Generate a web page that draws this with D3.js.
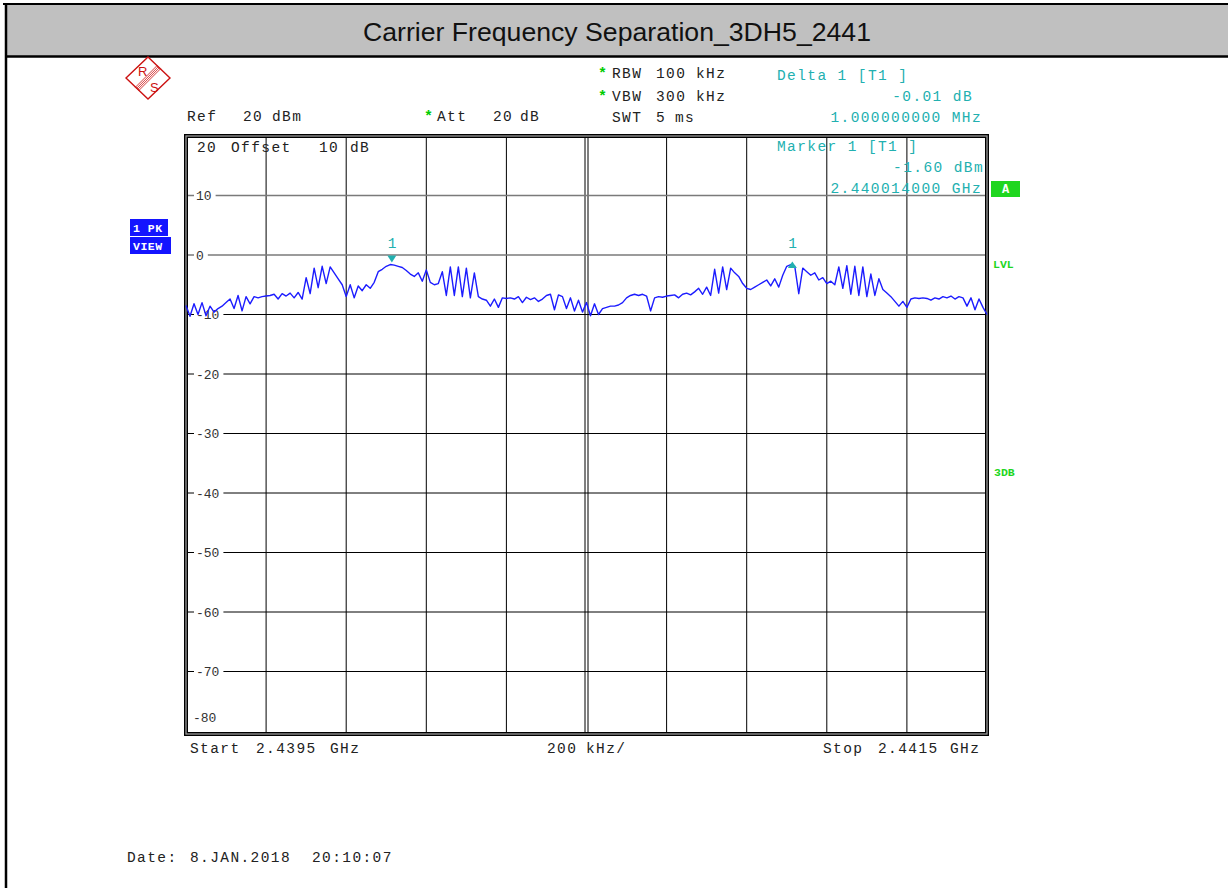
<!DOCTYPE html>
<html>
<head>
<meta charset="utf-8">
<script src="https://cdn.jsdelivr.net/npm/d3@7"></script>
<style>
  body { margin: 0; background: #fff; }
  svg { display: block; }
  .mono { font-family: 'Liberation Mono', 'Courier New', monospace; font-size: 14.5px; letter-spacing: 1.4px; }
</style>
</head>
<body>
<svg id="chart" width="1228" height="888"></svg>
<script>
// sweep settings (MHz)
const startMHz = 2439.5
const stopMHz = 2441.5
const stepMHz = 0.01
const divMHz = 0.2

// trace levels in dBm, one per 10 kHz from start to stop (201 points)
const levels = [
  -8.5, -10.3, -8.2, -10.0, -8.0, -10.2, -8.6, -9.6, -9.0, -8.6, -8.0, -7.4, -9.0, -6.8, -9.4, -7.0, -8.2, -7.0, -7.2, -7.0,
  -6.9, -6.8, -6.6, -7.4, -6.5, -6.9, -6.4, -7.2, -6.3, -7.4, -3.8, -6.5, -2.2, -5.5, -1.9, -4.8, -2.0, -3.0, -4.0, -5.0,
  -7.0, -5.0, -7.2, -5.2, -6.0, -5.0, -5.6, -4.6, -2.8, -2.4, -1.9, -1.6, -1.7, -1.9, -2.1, -2.6, -3.2, -3.6, -3.0, -4.4,
  -2.5, -4.6, -5.0, -4.8, -2.8, -6.8, -2.0, -6.8, -2.0, -7.0, -2.2, -7.2, -3.0, -7.0, -7.4, -7.6, -8.6, -7.4, -8.8, -7.2,
  -7.3, -7.2, -7.4, -7.0, -8.0, -7.1, -7.5, -7.2, -7.8, -7.4, -6.8, -6.6, -9.2, -6.7, -7.0, -9.0, -7.2, -9.4, -7.6, -9.6,
  -8.0, -10.2, -8.2, -10.0, -9.0, -8.8, -8.6, -8.6, -8.4, -8.0, -7.2, -6.8, -6.6, -6.8, -6.6, -6.9, -9.4, -7.2, -7.0, -7.1,
  -6.9, -6.8, -6.7, -7.2, -6.6, -6.4, -6.7, -6.2, -5.6, -6.6, -5.4, -6.8, -2.4, -6.4, -2.0, -5.8, -2.2, -3.0, -3.6, -4.8,
  -5.6, -5.8, -5.4, -5.0, -4.6, -4.2, -5.2, -4.0, -5.4, -3.4, -1.9, -1.6, -1.9, -6.5, -2.2, -2.8, -3.4, -3.0, -4.2, -3.8,
  -4.8, -4.4, -5.0, -2.0, -5.6, -1.8, -6.6, -1.9, -6.8, -2.0, -7.0, -3.2, -6.8, -4.0, -5.8, -6.4, -7.0, -7.8, -8.6, -7.8,
  -8.8, -7.4, -7.2, -7.3, -7.2, -7.3, -7.6, -7.2, -7.4, -7.0, -7.2, -6.9, -7.4, -7.0, -7.2, -8.6, -7.2, -9.2, -7.4, -8.8,
  -10.0
]

// level axis labels
const refLevel = 20
const bottomLevel = -80
const yTicks = [10, 0, -10, -20, -30, -40, -50, -60, -70]

// marker 1 and delta 1
const markers = [
  { name: '1', freq: 2440.014, level: -1.60, kind: 'marker' },
  { name: '1', freq: 2441.014, level: -1.61, kind: 'delta' }
]

const svg = d3.select('#chart')
const teal = '#22b0b0'
const green = '#1fd61f'
const star = '#00cc00'

// page frame + title bar
svg.append('rect').attr('x', 7).attr('y', 5).attr('width', 1221).attr('height', 51).attr('fill', '#c0c0c0')
svg.append('line').attr('x1', 3).attr('x2', 1228).attr('y1', 4).attr('y2', 4).attr('stroke', '#000').attr('stroke-width', 2)
svg.append('line').attr('x1', 6).attr('x2', 1228).attr('y1', 56.5).attr('y2', 56.5).attr('stroke', '#000').attr('stroke-width', 2.5)
svg.append('line').attr('x1', 6).attr('x2', 6).attr('y1', 3).attr('y2', 888).attr('stroke', '#000').attr('stroke-width', 2.5)
svg.append('text')
  .attr('x', 617).attr('y', 41)
  .attr('text-anchor', 'middle')
  .attr('font-family', "'Liberation Sans', Arial, sans-serif")
  .attr('font-size', '26px')
  .attr('textLength', 508)
  .attr('lengthAdjust', 'spacingAndGlyphs')
  .attr('fill', '#111')
  .text('Carrier Frequency Separation_3DH5_2441')

// R&S logo
const logo = svg.append('g').attr('transform', 'translate(148,78)')
logo.append('path').attr('d', 'M0,-21 L22,0 L0,21 L-22,0 Z').attr('fill', 'none').attr('stroke', '#cc1111').attr('stroke-width', 1.4)
;[-2.4, -0.8, 0.8, 2.4].forEach(o => {
  logo.append('line')
    .attr('x1', -11 + o * 0.7).attr('y1', 11 + o * 0.7)
    .attr('x2', 11 + o * 0.7).attr('y2', -11 + o * 0.7)
    .attr('stroke', '#cc1111').attr('stroke-width', 0.8)
})
logo.append('text').attr('x', -10).attr('y', -2).attr('font-family', 'Liberation Sans, Arial').attr('font-size', '13px').attr('fill', '#cc1111').text('R')
logo.append('text').attr('x', 2).attr('y', 14).attr('font-family', 'Liberation Sans, Arial').attr('font-size', '13px').attr('fill', '#cc1111').text('S')

function mono (x, y, str, color, anchor) {
  return svg.append('text')
    .attr('class', 'mono')
    .attr('x', x).attr('y', y)
    .attr('fill', color || '#222')
    .attr('text-anchor', anchor || 'start')
    .text(str)
}

function starMark (x, y) {
  svg.append('text')
    .attr('x', x).attr('y', y)
    .attr('font-family', "'Liberation Mono', monospace")
    .attr('font-weight', 'bold')
    .attr('font-size', '15px')
    .attr('fill', star)
    .text('*')
}

// header settings
mono(187, 121, 'Ref')
mono(243, 121, '20')
mono(272, 121, 'dBm')
starMark(424, 121)
mono(437, 121, 'Att')
mono(493, 121, '20')
mono(520, 121, 'dB')
starMark(598, 78)
mono(612, 78, 'RBW')
mono(656, 78, '100')
mono(696, 78, 'kHz')
starMark(598, 101)
mono(612, 101, 'VBW')
mono(656, 101, '300')
mono(696, 101, 'kHz')
mono(612, 122, 'SWT')
mono(656, 122, '5')
mono(675, 122, 'ms')

// plot area
const x0 = 186, x1 = 987, y0 = 136, y1 = 734
const x = d3.scaleLinear().domain([startMHz, stopMHz]).range([x0, x1])
const y = d3.scaleLinear().domain([refLevel, bottomLevel]).range([y0, 731])

const grid = svg.append('g')
const centerMHz = (startMHz + stopMHz) / 2
d3.range(startMHz + divMHz, stopMHz - divMHz / 2, divMHz).forEach(f => {
  const px = x(f)
  const offs = Math.abs(f - centerMHz) < 1e-6 ? [-1.5, 1.5] : [0]
  offs.forEach(o => {
    grid.append('line')
      .attr('x1', px + o).attr('x2', px + o)
      .attr('y1', y0).attr('y2', y1)
      .attr('stroke', '#000').attr('stroke-width', 1)
  })
})

yTicks.forEach(v => {
  const py = y(v)
  grid.append('line')
    .attr('x1', x0).attr('x2', x1)
    .attr('y1', py).attr('y2', py)
    .attr('stroke', v >= 0 ? '#7a7a7a' : '#000')
    .attr('stroke-width', v >= 0 ? 1.6 : 1)
  const bg = grid.append('rect')
  const t = grid.append('text')
    .attr('x', 196).attr('y', py + 4.5)
    .attr('font-family', "'Liberation Mono', monospace")
    .attr('font-size', '13px')
    .attr('fill', '#333')
    .text(v)
  const w = t.node().getComputedTextLength()
  bg.attr('x', 194).attr('y', py - 3)
    .attr('width', w + 6).attr('height', 6)
    .attr('fill', '#fff')
})

// in-plot labels
mono(197, 152, String(refLevel))
mono(231, 152, 'Offset')
mono(319, 152, '10')
mono(350, 152, 'dB')
svg.append('text')
  .attr('x', 193).attr('y', 722)
  .attr('font-family', "'Liberation Mono', monospace")
  .attr('font-size', '13px')
  .attr('fill', '#333')
  .text(String(bottomLevel))

// frame
svg.append('rect').attr('x', x0).attr('y', y0).attr('width', x1 - x0).attr('height', y1 - y0)
  .attr('fill', 'none').attr('stroke', '#000').attr('stroke-width', 4)
svg.append('rect').attr('x', x0).attr('y', y0).attr('width', x1 - x0).attr('height', y1 - y0)
  .attr('fill', 'none').attr('stroke', '#9a9a9a').attr('stroke-width', 1.3)

// trace
const line = d3.line()
  .x((d, i) => x(startMHz + i * stepMHz))
  .y(d => y(d))
svg.append('path')
  .datum(levels)
  .attr('d', line)
  .attr('fill', 'none')
  .attr('stroke', '#1c1cff')
  .attr('stroke-width', 1.4)
  .attr('stroke-linejoin', 'round')

// markers
markers.forEach(m => {
  const mx = x(m.freq)
  const my = y(m.level)
  if (m.kind === 'marker') {
    svg.append('path')
      .attr('d', `M${mx - 4.5},${my - 9} L${mx + 4.5},${my - 9} L${mx},${my - 2} Z`)
      .attr('fill', teal)
  } else {
    svg.append('path')
      .attr('d', `M${mx - 4.5},${my + 3.5} L${mx + 4.5},${my + 3.5} L${mx},${my - 3} Z`)
      .attr('fill', teal)
  }
  mono(mx - 4, 248, m.name, teal)
})

// marker readouts
mono(777, 80, 'Delta 1 [T1 ]', teal)
mono(973, 101, '-0.01 dB', teal, 'end')
mono(982, 122, '1.000000000 MHz', teal, 'end')
mono(777, 151, 'Marker 1 [T1 ]', teal)
mono(984, 172, '-1.60 dBm', teal, 'end')
mono(982, 193, '2.440014000 GHz', teal, 'end')

// side status boxes
svg.append('rect').attr('x', 991).attr('y', 181).attr('width', 29).attr('height', 16).attr('fill', green)
svg.append('text').attr('x', 1005.5).attr('y', 193).attr('text-anchor', 'middle')
  .attr('font-family', "'Liberation Mono', monospace").attr('font-weight', 'bold').attr('font-size', '12px')
  .attr('fill', '#fff').text('A')
;[['LVL', 993, 268], ['3DB', 994, 476]].forEach(d => {
  svg.append('text').attr('x', d[1]).attr('y', d[2])
    .attr('font-family', "'Liberation Mono', monospace").attr('font-weight', 'bold').attr('font-size', '11.5px')
    .attr('fill', green).text(d[0])
})
;[['1 PK', 219, 38], ['VIEW', 237, 41]].forEach(d => {
  svg.append('rect').attr('x', 130).attr('y', d[1]).attr('width', d[2]).attr('height', 17).attr('fill', '#1414ff')
  svg.append('text').attr('x', 133).attr('y', d[1] + 13)
    .attr('font-family', "'Liberation Mono', monospace").attr('font-weight', 'bold').attr('font-size', '11.5px')
    .attr('letter-spacing', '0.5px')
    .attr('fill', '#fff').text(d[0])
})

// sweep footer
mono(190, 753, 'Start')
mono(256, 753, '2.4395')
mono(330, 753, 'GHz')
mono(547, 753, '200')
mono(586, 753, 'kHz/')
mono(823, 753, 'Stop')
mono(878, 753, '2.4415')
mono(950, 753, 'GHz')

mono(127, 862, 'Date:')
mono(190, 862, '8.JAN.2018')
mono(312, 862, '20:10:07')
</script>
</body>
</html>
